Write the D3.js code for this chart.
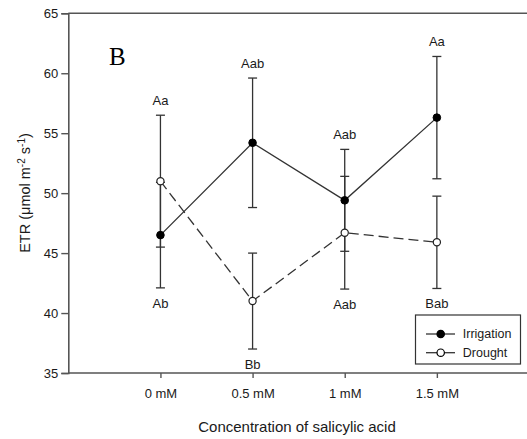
<!DOCTYPE html>
<html><head><meta charset="utf-8">
<script src="https://cdn.jsdelivr.net/npm/d3@7/dist/d3.min.js"></script>
<style>body{margin:0;background:#fff}svg{display:block}</style>
</head><body>
<script>
const categories = ["0 mM", "0.5 mM", "1 mM", "1.5 mM"];
const irrigation = [46.5, 54.2, 49.4, 56.3];
const irrigationErr = [4.4, 5.4, 4.25, 5.1];
const drought = [51.0, 41.0, 46.7, 45.9];
const droughtErr = [5.5, 4.0, 4.7, 3.85];
const lowerLabels = ["Ab", "Bb", "Aab", "Bab"];
const upperLabels = ["Aa", "Aab", "Aab", "Aa"];
const yTicks = [35, 40, 45, 50, 55, 60, 65];

const W = 527, H = 439;
const svg = d3.select("body").append("svg").attr("width", W).attr("height", H);
const x = d3.scaleLinear().domain([-1, 4]).range([68.3, 529]);
const y = d3.scaleLinear().domain([35, 65]).range([373, 13.3]);
const axisColor = "#555";
const lineColor = "#333";
const font = "Arial, 'Liberation Sans', sans-serif";
const txt = "#1a1a1a";

// top frame line
svg.append("line").attr("x1", x(-1)).attr("x2", W).attr("y1", y(65)).attr("y2", y(65))
  .attr("stroke", axisColor).attr("stroke-width", 1.6);

// y axis
const ya = svg.append("g").attr("transform", `translate(${x(-1)},0)`)
  .call(d3.axisLeft(y).tickValues(yTicks).tickSize(7).tickPadding(3).tickFormat(d3.format("d")));
ya.select(".domain").attr("stroke", axisColor).attr("stroke-width", 1.6);
ya.selectAll(".tick line").attr("stroke", axisColor).attr("stroke-width", 1.4);
ya.selectAll("text").attr("font-family", font).attr("font-size", 13).attr("fill", txt);

// x axis
const xa = svg.append("g").attr("transform", `translate(0,${y(35)})`)
  .call(d3.axisBottom(x).tickValues([0, 1, 2, 3]).tickSize(5).tickPadding(11)
    .tickFormat(i => categories[i]));
xa.select(".domain").attr("stroke", axisColor).attr("stroke-width", 1.6)
  .attr("d", `M${x(-1)},0H${W + 5}`);
xa.selectAll(".tick line").attr("stroke", axisColor).attr("stroke-width", 1.4);
xa.selectAll("text").attr("font-family", font).attr("font-size", 13).attr("fill", txt);

// axis titles
svg.append("text").attr("x", 297).attr("y", 432).attr("text-anchor", "middle")
  .attr("font-family", font).attr("font-size", 15).attr("fill", txt)
  .text("Concentration of salicylic acid");
const yt = svg.append("text").attr("transform", "translate(30,193) rotate(-90)")
  .attr("text-anchor", "middle").attr("font-family", font).attr("font-size", 14.5).attr("fill", txt);
yt.append("tspan").text("ETR (μmol m");
yt.append("tspan").attr("dy", -5).attr("font-size", 10).text("-2");
yt.append("tspan").attr("dy", 5).text(" s");
yt.append("tspan").attr("dy", -5).attr("font-size", 10).text("-1");
yt.append("tspan").attr("dy", 5).text(")");

// panel letter
svg.append("text").attr("x", 109).attr("y", 65).attr("font-family", "'Liberation Serif', 'Times New Roman', serif")
  .attr("font-size", 25).attr("fill", "#000").text("B");

const idx = d3.range(categories.length);
const line = (vals) => d3.line().x((d, i) => x(i)).y(d => y(d))(vals);

// error bars
function errBars(vals, errs) {
  const g = svg.append("g").attr("stroke", lineColor).attr("stroke-width", 1.3);
  idx.forEach(i => {
    const lo = vals[i] - errs[i], hi = vals[i] + errs[i];
    g.append("line").attr("x1", x(i)).attr("x2", x(i)).attr("y1", y(lo)).attr("y2", y(hi));
    [lo, hi].forEach(v => g.append("line").attr("x1", x(i) - 4.5).attr("x2", x(i) + 4.5)
      .attr("y1", y(v)).attr("y2", y(v)));
  });
}
errBars(irrigation, irrigationErr);
errBars(drought, droughtErr);

// lines
svg.append("path").attr("d", line(irrigation)).attr("fill", "none").attr("stroke", lineColor).attr("stroke-width", 1.3);
svg.append("path").attr("d", line(drought)).attr("fill", "none").attr("stroke", lineColor).attr("stroke-width", 1.3)
  .attr("stroke-dasharray", "10,5");

// markers
svg.append("g").selectAll("circle").data(irrigation).join("circle")
  .attr("cx", (d, i) => x(i)).attr("cy", d => y(d)).attr("r", 3.8).attr("fill", "#000").attr("stroke", "#000");
svg.append("g").selectAll("circle").data(drought).join("circle")
  .attr("cx", (d, i) => x(i)).attr("cy", d => y(d)).attr("r", 3.6).attr("fill", "#fff").attr("stroke", "#222").attr("stroke-width", 1.2);

// letters
const upperTop = idx.map(i => Math.max(irrigation[i] + irrigationErr[i], drought[i] + droughtErr[i]));
const lowerBot = idx.map(i => Math.min(irrigation[i] - irrigationErr[i], drought[i] - droughtErr[i]));
svg.append("g").selectAll("text").data(upperLabels).join("text")
  .attr("x", (d, i) => x(i)).attr("y", (d, i) => y(upperTop[i]) - 10)
  .attr("text-anchor", "middle").attr("font-family", font).attr("font-size", 13).attr("fill", txt).text(d => d);
svg.append("g").selectAll("text").data(lowerLabels).join("text")
  .attr("x", (d, i) => x(i)).attr("y", (d, i) => y(lowerBot[i]) + 20)
  .attr("text-anchor", "middle").attr("font-family", font).attr("font-size", 13).attr("fill", txt).text(d => d);

// legend
const lg = svg.append("g").attr("transform", "translate(415.5,315)");
lg.append("rect").attr("width", 105).attr("height", 49).attr("fill", "#fff").attr("stroke", "#333").attr("stroke-width", 1.2);
const items = [{name: "Irrigation", fill: "#000"}, {name: "Drought", fill: "#fff"}];
items.forEach((it, k) => {
  const yy = 19 + k * 18.7;
  lg.append("line").attr("x1", 10.5).attr("x2", 39.5).attr("y1", yy).attr("y2", yy).attr("stroke", lineColor).attr("stroke-width", 1.3);
  lg.append("circle").attr("cx", 25.2).attr("cy", yy).attr("r", 3.7).attr("fill", it.fill).attr("stroke", "#000").attr("stroke-width", 1.2);
  lg.append("text").attr("x", 47.3).attr("y", yy + 4.3).attr("font-family", font).attr("font-size", 12.5).attr("fill", txt).text(it.name);
});
</script>
</body></html>
